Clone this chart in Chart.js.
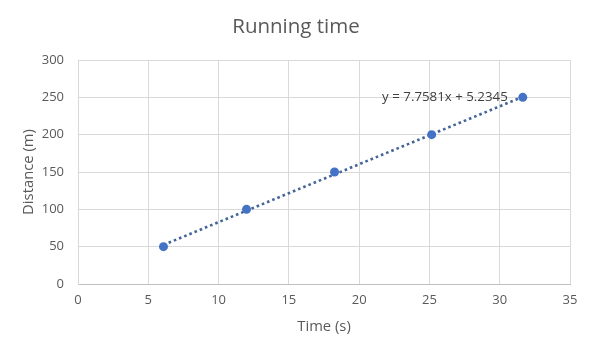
<!DOCTYPE html>
<html>
<head>
<meta charset="utf-8">
<script src="https://cdn.jsdelivr.net/npm/chart.js@4/dist/chart.umd.min.js"></script>
<style>
html,body{margin:0;padding:0;background:#fff;}
#wrap{width:592px;height:355px;}
</style>
</head>
<body>
<div id="wrap"><canvas id="c" width="592" height="355"></canvas></div>
<script>
const chartTitle = "Running time";
const xAxisTitle = "Time (s)";
const yAxisTitle = "Distance (m)";
const timeValues = [6.08, 11.99, 18.25, 25.16, 31.64];
const distanceValues = [50, 100, 150, 200, 250];
const trendX = [6.08, 31.64];
const trendY = [52.4, 250.7];
const trendLabel = "y = 7.7581x + 5.2345";
const xTicks = [0, 5, 10, 15, 20, 25, 30, 35];
const yTicks = [0, 50, 100, 150, 200, 250, 300];

const FONT = "'Open Sans', 'Liberation Sans', Arial, sans-serif";
const TEXT = "#595959";
const BLUE = "#4472C4";
const TREND = "#43649A";

const eqPlugin = {
  id: 'eqLabel',
  afterDatasetsDraw(chart) {
    const {ctx, scales} = chart;
    const xs = scales.x, ys = scales.y;
    const px = xs.getPixelForValue(trendX[trendX.length - 1]) - 15;
    const py = ys.getPixelForValue(distanceValues[distanceValues.length - 1]);
    ctx.save();
    ctx.font = "13.3px " + FONT;
    ctx.fillStyle = "#404040";
    ctx.textAlign = "right";
    ctx.textBaseline = "middle";
    ctx.fillText(trendLabel, px, py);
    ctx.restore();
  }
};

new Chart(document.getElementById('c'), {
  type: 'scatter',
  data: {
    datasets: [
      {
        label: 'Trend',
        data: trendX.map((x, i) => ({x: x, y: trendY[i]})),
        showLine: true,
        borderColor: TREND,
        borderWidth: 2.6,
        borderDash: [2.6, 3],
        borderCapStyle: 'butt',
        pointRadius: 0,
        order: 2
      },
      {
        label: 'Distance',
        data: timeValues.map((x, i) => ({x: x, y: distanceValues[i]})),
        backgroundColor: BLUE,
        borderColor: BLUE,
        pointRadius: 4.5,
        pointBorderWidth: 0,
        order: 1
      }
    ]
  },
  options: {
    responsive: false,
    animation: false,
    layout: {padding: {left: 0, right: 0, top: 0, bottom: 0}},
    plugins: {
      legend: {display: false},
      tooltip: {enabled: false},
      title: {
        display: true,
        text: chartTitle,
        color: TEXT,
        font: {family: FONT, size: 20.5, weight: 'normal', lineHeight: 1.2},
        padding: {top: 15, bottom: 20.4}
      }
    },
    scales: {
      x: {
        type: 'linear',
        min: 0, max: 35,
        afterBuildTicks(scale) { scale.ticks = xTicks.map(v => ({value: v})); },
        afterFit(scale) { scale.height = 71; },
        grid: {color: '#d9d9d9', drawTicks: false, lineWidth: 1},
        border: {color: '#bfbfbf', width: 1},
        ticks: {color: TEXT, font: {family: FONT, size: 13}, padding: 8, maxRotation: 0},
        title: {display: true, text: xAxisTitle, color: TEXT, font: {family: FONT, size: 14.8}, padding: 19}
      },
      y: {
        type: 'linear',
        min: 0, max: 300,
        afterBuildTicks(scale) { scale.ticks = yTicks.map(v => ({value: v})); },
        afterFit(scale) { scale.width = 78; },
        grid: {color: '#d9d9d9', drawTicks: false, lineWidth: 1},
        border: {color: '#d9d9d9', width: 1},
        ticks: {color: TEXT, font: {family: FONT, size: 13}, padding: 14},
        title: {display: true, text: yAxisTitle, color: TEXT, font: {family: FONT, size: 14.8}, padding: 20}
      },
      yRight: {
        type: 'linear',
        position: 'right',
        min: 0, max: 300,
        afterFit(scale) { scale.width = 22; },
        grid: {display: false, drawTicks: false},
        border: {display: false},
        ticks: {display: false},
        title: {display: false}
      }
    }
  },
  plugins: [eqPlugin]
});
</script>
</body>
</html>
